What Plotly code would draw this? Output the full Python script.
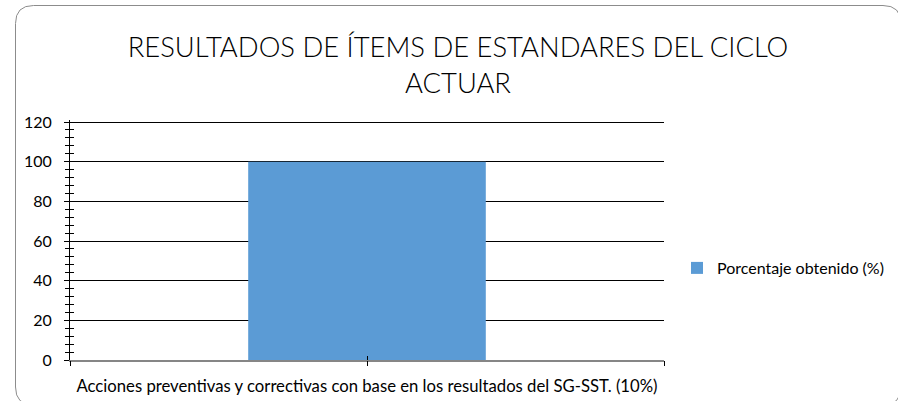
import plotly.graph_objects as go

# ---- data ----
categories = ["Acciones preventivas y correctivas con base en los resultados del SG-SST. (10%)"]
values = [100]
series_name = "Porcentaje obtenido (%)"
title_text = "RESULTADOS DE ÍTEMS DE ESTANDARES DEL CICLO<br>ACTUAR"
y_ticks = [0, 20, 40, 60, 80, 100, 120]

W, H = 898, 401
HEAD = 2  # px of headroom above the top tick so its gridline is drawn
L, R, T, B = 70, 234, 122 - HEAD, 41
PW, PH = W - L - R, H - T - B
FONT = "Lato, Carlito, Calibri, sans-serif"

def px(x):
    return (x - L) / PW

def py(y):
    return (H - B - y) / PH

idx = list(range(len(categories)))
x_tick_pos = sorted(set([i - 0.5 for i in idx] + idx + [i + 0.5 for i in idx]))
x_rng = [-0.5, len(categories) - 0.5]
y_rng = [0, max(y_ticks) * (1 + HEAD / (PH - HEAD))]

fig = go.Figure()
fig.add_trace(go.Bar(
    x=categories, y=values, name=series_name,
    marker=dict(color="#5B9BD5", line=dict(width=0)),
    showlegend=True,
))
# invisible helper traces so that the tick-only overlay axes are drawn
for xa in ("x2", "x3"):
    fig.add_trace(go.Bar(x=idx, y=values, xaxis=xa, yaxis="y2", opacity=0,
                         showlegend=False, hoverinfo="skip",
                         marker=dict(color="rgba(0,0,0,0)")))

# rounded chart border
x0, y0, x1, y1, r = 15.5, 5.5, 901.0, 405.0, 18
path = (f"M {px(x0)},{py(y0 + r)} Q {px(x0)},{py(y0)} {px(x0 + r)},{py(y0)} "
        f"L {px(x1 - r)},{py(y0)} Q {px(x1)},{py(y0)} {px(x1)},{py(y0 + r)} "
        f"L {px(x1)},{py(y1 - r)} Q {px(x1)},{py(y1)} {px(x1 - r)},{py(y1)} "
        f"L {px(x0 + r)},{py(y1)} Q {px(x0)},{py(y1)} {px(x0)},{py(y1 - r)} Z")

tick_overlay = dict(anchor="y", range=x_rng, tickvals=x_tick_pos, tickcolor="#000000",
                    showticklabels=False, showgrid=False, showline=False, zeroline=False,
                    side="bottom", fixedrange=True)

fig.update_layout(
    width=W, height=H,
    margin=dict(l=L, r=R, t=T, b=B, autoexpand=False),
    paper_bgcolor="white", plot_bgcolor="white",
    font=dict(family=FONT, color="#000000"),
    title=dict(text=title_text, x=458 / W, xanchor="center", y=1 - 57 / H, yanchor="middle",
               font=dict(size=27.4, family=FONT, color="#000000", weight=300)),
    bargap=0.6,
    showlegend=True,
    legend=dict(x=px(677), xanchor="left", y=py(268), yanchor="middle",
                font=dict(size=16, family=FONT), bgcolor="rgba(0,0,0,0)",
                itemwidth=30, tracegroupgap=0),
    xaxis=dict(type="category", showgrid=False, ticks="", showline=True,
               linecolor="#868686", linewidth=2, tickfont=dict(size=16.7),
               ticklabelstandoff=10, zeroline=False),
    xaxis2=dict(overlaying="x", ticks="outside", ticklen=5, **tick_overlay),
    xaxis3=dict(overlaying="x", ticks="inside", ticklen=4, **tick_overlay),
    yaxis=dict(range=y_rng, tickvals=y_ticks, showgrid=True, gridcolor="#000000",
               gridwidth=1, showline=True, linecolor="#000000", linewidth=1,
               ticks="outside", ticklen=5, tickcolor="#000000",
               minor=dict(dtick=4, ticks="outside", ticklen=4, tickcolor="#000000", showgrid=False),
               tickfont=dict(size=16), ticklabelstandoff=9, zeroline=False),
    yaxis2=dict(overlaying="y", anchor="x", range=y_rng, tickvals=y_ticks,
                ticks="inside", ticklen=5, tickcolor="#000000", showticklabels=False,
                minor=dict(dtick=4, ticks="inside", ticklen=4, tickcolor="#000000", showgrid=False),
                showgrid=False, showline=False, zeroline=False, side="left"),
    shapes=[dict(type="path", xref="paper", yref="paper", path=path,
                 line=dict(color="#8C8C8C", width=1), fillcolor="rgba(0,0,0,0)", layer="below")],
)

fig.write_html("out.html", config={"displayModeBar": False},
               post_script="document.body.style.margin='0';document.body.style.overflow='hidden';")
